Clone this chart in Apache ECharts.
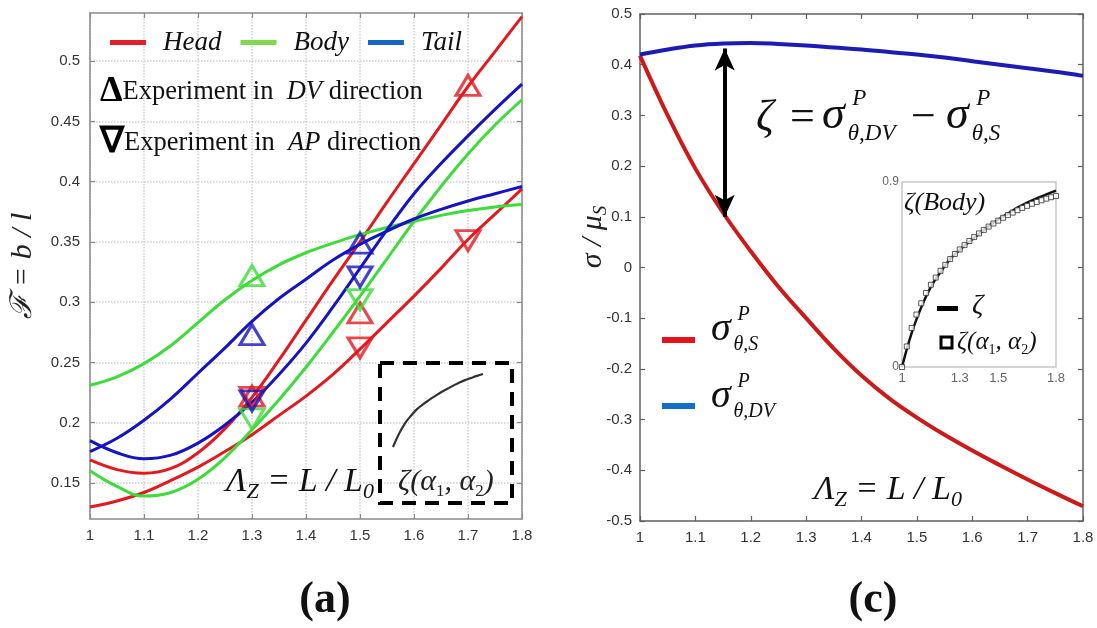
<!DOCTYPE html>
<html><head><meta charset="utf-8">
<script src="https://cdn.jsdelivr.net/npm/echarts@6/dist/echarts.min.js"></script>
<style>html,body{margin:0;padding:0;background:#fff}#c{width:1097px;height:628px}</style>
</head><body><div id="c"></div>
<script>
// ---------- Panel (a) data ----------
const fX = [1.0,1.05,1.1,1.15,1.2,1.25,1.3,1.35,1.4,1.45,1.5,1.55,1.6,1.65,1.7,1.75,1.8];
const headSteep   = [0.169,0.161,0.158,0.162,0.175,0.195,0.221,0.252,0.285,0.318,0.350,0.383,0.415,0.447,0.479,0.508,0.537];
const headShallow = [0.130,0.135,0.142,0.152,0.163,0.176,0.190,0.206,0.222,0.240,0.261,0.283,0.305,0.328,0.352,0.373,0.394];
const bodyConcave = [0.231,0.238,0.249,0.264,0.283,0.302,0.318,0.331,0.341,0.349,0.356,0.362,0.367,0.372,0.376,0.379,0.381];
const bodySteep   = [0.160,0.147,0.139,0.142,0.153,0.171,0.194,0.219,0.246,0.275,0.305,0.336,0.367,0.396,0.423,0.447,0.468];
const tailConcave = [0.176,0.187,0.202,0.220,0.241,0.262,0.284,0.303,0.319,0.335,0.348,0.359,0.369,0.377,0.384,0.390,0.396];
const tailSteep   = [0.185,0.175,0.170,0.173,0.183,0.198,0.217,0.240,0.266,0.296,0.328,0.360,0.390,0.415,0.438,0.460,0.481];
// experiments (x, F)
const dvHead = [[1.3,0.222],[1.5,0.291],[1.7,0.480]];
const dvBody = [[1.3,0.322]];
const dvTail = [[1.3,0.273],[1.5,0.349]];
const apHead = [[1.3,0.221],[1.5,0.262],[1.7,0.351]];
const apBody = [[1.3,0.203],[1.5,0.302]];
const apTail = [[1.3,0.218],[1.5,0.321]];
const fTicks = [0.15,0.2,0.25,0.3,0.35,0.4,0.45,0.5];

// ---------- Panel (c) data ----------
const sX = [1.0,1.05,1.1,1.15,1.2,1.25,1.3,1.35,1.4,1.45,1.5,1.55,1.6,1.65,1.7,1.75,1.8];
const sigS  = [0.418,0.300,0.195,0.108,0.032,-0.038,-0.100,-0.160,-0.213,-0.258,-0.296,-0.330,-0.361,-0.390,-0.418,-0.445,-0.471];
const sigDV = [0.420,0.430,0.438,0.442,0.443,0.441,0.438,0.434,0.430,0.425,0.420,0.414,0.407,0.400,0.393,0.386,0.378];
const arrowX = 1.153, arrowTop = 0.432, arrowBottom = 0.100;
// inset zeta(Body)
const zX = [1.0,1.05,1.1,1.15,1.2,1.25,1.3,1.35,1.4,1.45,1.5,1.55,1.6,1.65,1.7,1.75,1.8];
const zeta = [0.0,0.165,0.29,0.39,0.462,0.525,0.57,0.61,0.648,0.685,0.716,0.746,0.775,0.80,0.82,0.84,0.858];
const zaX = [1.0,1.025,1.05,1.075,1.1,1.125,1.15,1.175,1.2,1.225,1.25,1.275,1.3,1.325,1.35,1.375,1.4,1.425,1.45,1.475,1.5,1.525,1.55,1.575,1.6,1.625,1.65,1.675,1.7,1.725,1.75,1.775,1.8];
const zetaFit = [0.0,0.10,0.19,0.255,0.31,0.36,0.40,0.435,0.468,0.497,0.525,0.55,0.572,0.593,0.613,0.632,0.65,0.667,0.683,0.698,0.712,0.726,0.739,0.751,0.763,0.774,0.784,0.794,0.803,0.811,0.819,0.826,0.832];
const insetXTicks = [1,1.3,1.5,1.8];

const pair = (xa, ya) => xa.map((x, i) => [x, ya[i]]);
const RED = '#e3191e', GREEN = '#3ddc3a', BLUE = '#1414c4';
const SERIF = "'Liberation Serif','Times New Roman',serif";
const SANS = "'Liberation Sans',Arial,sans-serif";

function txt(x, y, text, size, opt) {
  return {type:'text', x:x, y:y, z:50, silent:true,
    style:Object.assign({text:text, fontSize:size, fontFamily:SERIF, fontStyle:'italic', fill:'#111', align:'left', verticalAlign:'middle'}, opt || {})};
}
function sigmaTerm(x, y, sub, size) {
  return [
    txt(x, y, 'σ', size),
    txt(x + size*0.66, y - size*0.36, 'P', size*0.5),
    txt(x + size*0.56, y + size*0.40, sub, size*0.5)
  ];
}
function lambdaText(x, y) {
  return {type:'text', x:x, y:y, z:50, silent:true, style:{
    text:'{m|Λ}{s|Z}{m| = L / L}{s|0}', fill:'#111', verticalAlign:'middle',
    rich:{m:{fontFamily:SERIF, fontStyle:'italic', fontSize:34, lineHeight:42, fill:'#111'},
          s:{fontFamily:SERIF, fontStyle:'italic', fontSize:22, lineHeight:24, verticalAlign:'bottom', fill:'#111'}}}};
}

const frameAxis = (color) => ({
  axisLine:{show:true, onZero:false, lineStyle:{color:color, width:1.5}},
  axisTick:{show:true, inside:true, length:5, lineStyle:{color:color, width:1.2}}
});

const lineSeries = (name, data, color, xi, width) => ({
  name:name, type:'line', xAxisIndex:xi, yAxisIndex:xi, data:data, smooth:0.4,
  showSymbol:false, symbol:'none', silent:true,
  lineStyle:{color:color, width:width}, itemStyle:{color:color}, z:3
});
const triSeries = (name, data, color, down) => ({
  name:name, type:'scatter', xAxisIndex:0, yAxisIndex:0, data:data,
  symbol:'triangle', symbolSize:[24,20], symbolRotate: down ? 180 : 0, silent:true,
  itemStyle:{color:'rgba(255,255,255,0)', borderColor:color, borderWidth:3}, z:4
});

const chart = echarts.init(document.getElementById('c'));
const option = {
  backgroundColor:'#fff',
  animation:false,
  grid:[
    {left:90, top:13, width:432, height:506, outerBoundsMode:'none'},
    {left:640, top:14, width:443, height:507, outerBoundsMode:'none'},
    {left:902, top:182, width:154, height:185, show:true, borderColor:'#c8c8c8', borderWidth:1.5, backgroundColor:'#fff', outerBoundsMode:'none'},
    {left:393, top:374, width:90, height:73, outerBoundsMode:'none'}
  ],
  xAxis:[
    Object.assign({type:'value', gridIndex:0, min:1, max:1.8, interval:0.1, position:'bottom',
      axisLabel:{fontSize:15, color:'#333', fontFamily:SANS, margin:9},
      splitLine:{show:true, lineStyle:{color:'#cfcfcf', type:'dotted', width:1.5}}}, frameAxis('#8a8a8a')),
    Object.assign({type:'value', gridIndex:0, min:1, max:1.8, interval:0.1, position:'top',
      axisLabel:{show:false}, splitLine:{show:false}}, frameAxis('#8a8a8a')),
    Object.assign({type:'value', gridIndex:1, min:1, max:1.8, interval:0.1, position:'bottom',
      axisLabel:{fontSize:15, color:'#333', fontFamily:SANS, margin:9}, splitLine:{show:false}}, frameAxis('#606060')),
    Object.assign({type:'value', gridIndex:1, min:1, max:1.8, interval:0.1, position:'top',
      axisLabel:{show:false}, splitLine:{show:false}}, frameAxis('#606060')),
    {type:'value', gridIndex:2, min:1, max:1.8, axisLine:{show:false}, axisTick:{show:false}, splitLine:{show:false},
      axisLabel:{customValues:insetXTicks, fontSize:13, color:'#666', fontFamily:SANS, margin:5}},
    {type:'value', gridIndex:3, min:1.05, max:1.8, show:false}
  ],
  yAxis:[
    Object.assign({type:'value', gridIndex:0, min:0.12, max:0.54, position:'left',
      name:'ℱ = b / l', nameLocation:'middle', nameRotate:90, nameGap:52,
      nameTextStyle:{fontFamily:SERIF, fontStyle:'italic', fontSize:30, color:'#222'},
      axisLabel:{customValues:fTicks, fontSize:15, color:'#333', fontFamily:SANS, margin:10},
      splitLine:{show:true, lineStyle:{color:'#cfcfcf', type:'dotted', width:1.5}}}, frameAxis('#8a8a8a'),
      {axisTick:{show:true, inside:true, length:5, customValues:fTicks, lineStyle:{color:'#8a8a8a', width:1.2}}}),
    Object.assign({type:'value', gridIndex:0, min:0.12, max:0.54, position:'right',
      axisLabel:{show:false}, splitLine:{show:false}}, frameAxis('#8a8a8a'),
      {axisTick:{show:true, inside:true, length:5, customValues:fTicks, lineStyle:{color:'#8a8a8a', width:1.2}}}),
    Object.assign({type:'value', gridIndex:1, min:-0.5, max:0.5, interval:0.1, position:'left',
      axisLabel:{fontSize:15, color:'#333', fontFamily:SANS, margin:8}, splitLine:{show:false}}, frameAxis('#606060')),
    Object.assign({type:'value', gridIndex:1, min:-0.5, max:0.5, interval:0.1, position:'right',
      axisLabel:{show:false}, splitLine:{show:false}}, frameAxis('#606060')),
    {type:'value', gridIndex:2, min:0, max:0.9, interval:0.9, axisLine:{show:false}, axisTick:{show:false}, splitLine:{show:false},
      axisLabel:{fontSize:12, color:'#666', fontFamily:SANS, margin:3}},
    {type:'value', gridIndex:3, min:0.165, max:0.858, show:false}
  ],
  legend:[
    {data:[{name:'Head', itemStyle:{color:'#e3202a'}}, {name:'Body', itemStyle:{color:'#7fd84e'}}, {name:'Tail', itemStyle:{color:'#1666c4'}}],
     left:105, top:24, icon:'rect', itemWidth:36, itemHeight:5, itemGap:19, selectedMode:false,
     textStyle:{fontFamily:SERIF, fontStyle:'italic', fontSize:27, color:'#111', padding:[0,0,0,12]}},
    {data:[{name:'sigS', itemStyle:{color:'#e8101a'}}, {name:'sigDV', itemStyle:{color:'#1070c8'}}],
     orient:'vertical', left:657, top:329, icon:'rect', itemWidth:33, itemHeight:6, itemGap:54, selectedMode:false,
     formatter:function(){return ' ';}, textStyle:{fontSize:12}}
  ],
  series:[
    lineSeries('Head', pair(fX, headSteep), RED, 0, 3),
    lineSeries('Head', pair(fX, headShallow), RED, 0, 3),
    lineSeries('Body', pair(fX, bodyConcave), GREEN, 0, 3),
    lineSeries('Body', pair(fX, bodySteep), GREEN, 0, 3),
    lineSeries('Tail', pair(fX, tailConcave), BLUE, 0, 3),
    lineSeries('Tail', pair(fX, tailSteep), BLUE, 0, 3),
    triSeries('DV Head', dvHead, RED, false),
    triSeries('AP Head', apHead, RED, true),
    triSeries('DV Body', dvBody, GREEN, false),
    triSeries('AP Body', apBody, GREEN, true),
    triSeries('DV Tail', dvTail, BLUE, false),
    triSeries('AP Tail', apTail, BLUE, true),
    Object.assign(lineSeries('sigS', pair(sX, sigS), '#cc1a1a', 2, 4), {xAxisIndex:2, yAxisIndex:2}),
    Object.assign(lineSeries('sigDV', pair(sX, sigDV), '#1c1cb4', 2, 4), {xAxisIndex:2, yAxisIndex:2,
      markLine:{silent:true, symbol:['arrow','arrow'], symbolSize:[15,22], label:{show:false},
        lineStyle:{color:'#000', width:4, type:'solid'},
        data:[[{coord:[arrowX, arrowTop]}, {coord:[arrowX, arrowBottom]}]]}}),
    {name:'zeta', type:'line', xAxisIndex:4, yAxisIndex:4, data:pair(zX, zeta), smooth:0.4, showSymbol:false, symbol:'none',
      lineStyle:{color:'#111', width:2.5}, z:5, silent:true},
    {name:'zetaFit', type:'scatter', xAxisIndex:4, yAxisIndex:4, data:pair(zaX, zetaFit), symbol:'rect', symbolSize:5,
      itemStyle:{color:'#fff', borderColor:'#333', borderWidth:1}, z:6, silent:true},
    {name:'zetaMini', type:'line', xAxisIndex:5, yAxisIndex:5, data:pair(zX.slice(1), zeta.slice(1)), smooth:0.4, showSymbol:false, symbol:'none',
      lineStyle:{color:'#333', width:2.2}, z:5, silent:true}
  ],
  graphic:[
    // panel (a) annotations
    {type:'text', x:100, y:92, z:50, silent:true, style:{text:'{t|Δ}{r|Experiment in  }{i|DV}{r| direction}', verticalAlign:'middle',
      rich:{t:{fontFamily:SERIF, fontWeight:'bold', fontSize:36, fill:'#000'}, r:{fontFamily:SERIF, fontSize:26.5, fill:'#111'}, i:{fontFamily:SERIF, fontStyle:'italic', fontSize:26.5, fill:'#111'}}}},
    {type:'text', x:100, y:143, z:50, silent:true, style:{text:'{t|∇}{r|Experiment in  }{i|AP}{r| direction}', verticalAlign:'middle',
      rich:{t:{fontFamily:SERIF, fontWeight:'bold', fontSize:36, fill:'#000'}, r:{fontFamily:SERIF, fontSize:26.5, fill:'#111'}, i:{fontFamily:SERIF, fontStyle:'italic', fontSize:26.5, fill:'#111'}}}},
    lambdaText(226, 482),
    {type:'rect', z:40, silent:true, shape:{x:380, y:363, width:132, height:140}, style:{fill:'none', stroke:'#000', lineWidth:4, lineDash:[14,9]}},
    {type:'text', x:398, y:482, z:50, silent:true, style:{text:'{m|ζ(α}{s|1}{m|, α}{s|2}{m|)}', verticalAlign:'middle',
      rich:{m:{fontFamily:SERIF, fontStyle:'italic', fontSize:30, lineHeight:36, fill:'#222'}, s:{fontFamily:SERIF, fontSize:17, lineHeight:18, verticalAlign:'bottom', fill:'#222'}}}},
    {type:'text', x:325, y:601, z:50, silent:true, style:{text:'(a)', fontFamily:SERIF, fontWeight:'bold', fontSize:44, fill:'#111', align:'center', verticalAlign:'middle'}},
    // panel (c) annotations
    txt(756, 118, 'ζ', 44),
    txt(790, 118, '=', 44, {fontStyle:'normal'}),
  ].concat(sigmaTerm(822, 116, 'θ,DV', 46))
   .concat([txt(911, 118, '−', 44, {fontStyle:'normal'})])
   .concat(sigmaTerm(946, 116, 'θ,S', 46))
   .concat(sigmaTerm(711, 329, 'θ,S', 40))
   .concat(sigmaTerm(711, 396, 'θ,DV', 40))
   .concat([
    lambdaText(814, 490),
    {type:'text', x:593, y:237, z:50, rotation:Math.PI/2, silent:true, style:{text:'{m|σ / μ}{s|S}', align:'center', verticalAlign:'middle',
      rich:{m:{fontFamily:SERIF, fontStyle:'italic', fontSize:30, lineHeight:34, fill:'#222'}, s:{fontFamily:SERIF, fontStyle:'italic', fontSize:19, lineHeight:20, verticalAlign:'bottom', fill:'#222'}}}},
    {type:'text', x:904, y:203, z:50, silent:true, style:{text:'ζ(Body)', fontFamily:SERIF, fontStyle:'italic', fontSize:26, fill:'#111', verticalAlign:'middle'}},
    {type:'rect', z:50, silent:true, shape:{x:937, y:306, width:21, height:5}, style:{fill:'#000'}},
    txt(972, 306, 'ζ', 28),
    {type:'rect', z:50, silent:true, shape:{x:941, y:337, width:11, height:11}, style:{fill:'#fff', stroke:'#000', lineWidth:3}},
    {type:'text', x:957, y:342, z:50, silent:true, style:{text:'{m|ζ(α}{s|1}{m|, α}{s|2}{m|)}', verticalAlign:'middle',
      rich:{m:{fontFamily:SERIF, fontStyle:'italic', fontSize:25, lineHeight:30, fill:'#111'}, s:{fontFamily:SERIF, fontSize:14, lineHeight:15, verticalAlign:'bottom', fill:'#111'}}}},
    {type:'text', x:873, y:601, z:50, silent:true, style:{text:'(c)', fontFamily:SERIF, fontWeight:'bold', fontSize:44, fill:'#111', align:'center', verticalAlign:'middle'}}
  ])
};
chart.setOption(option);
</script>
</body></html>
